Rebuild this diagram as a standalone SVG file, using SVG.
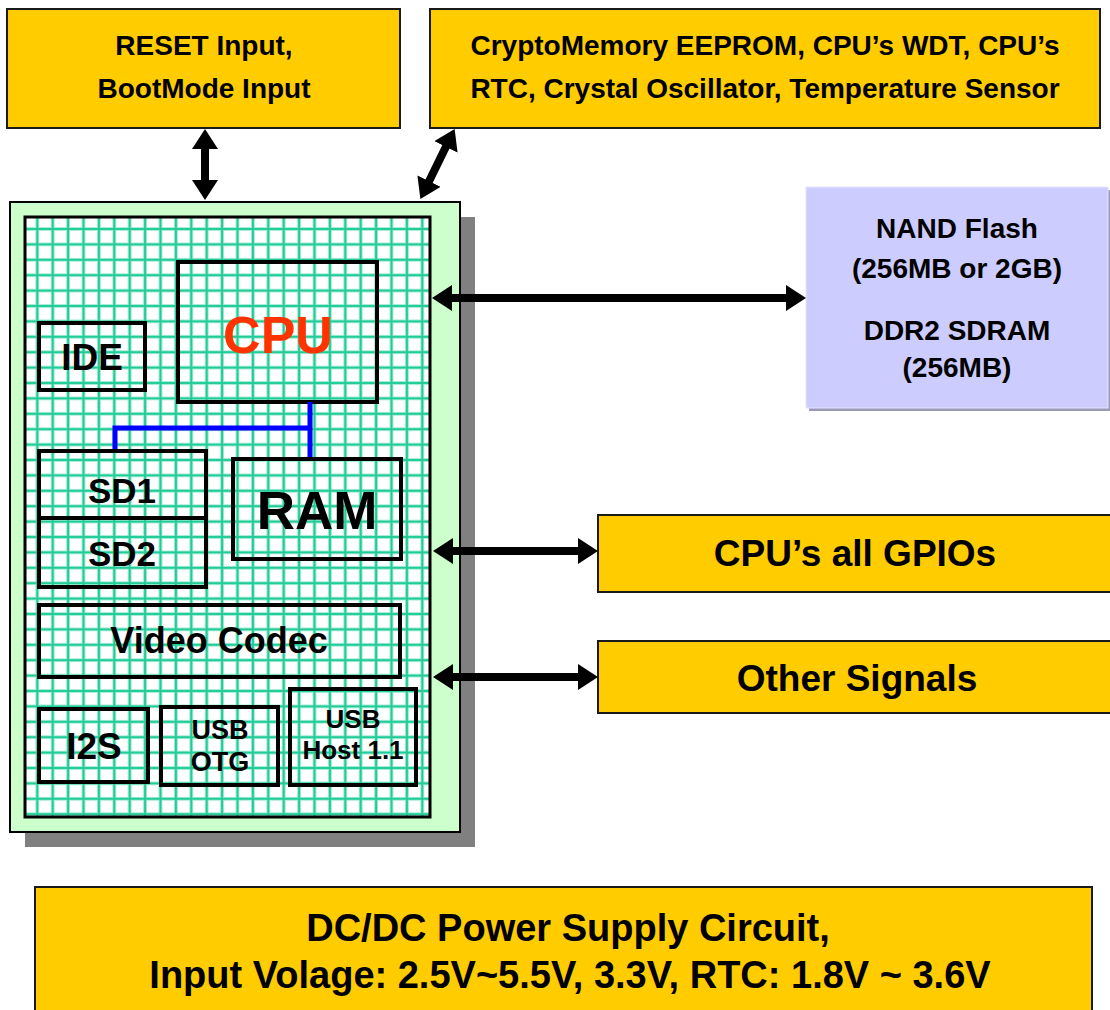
<svg xmlns="http://www.w3.org/2000/svg" width="1110" height="1010" viewBox="0 0 1110 1010">
<style>
text{font-family:"Liberation Sans",Arial,sans-serif;font-weight:bold;text-anchor:middle;fill:#000}
.yel{fill:#FFCC00;stroke:#1a1a1a;stroke-width:2}
.blk{fill:none;stroke:#000;stroke-width:4}
.arr{fill:none;stroke:#000;stroke-width:8;marker-start:url(#ah);marker-end:url(#ah)}
.t28{font-size:28px}.t37{font-size:37px}.t38{font-size:38px}
</style>
<defs>
<marker id="ah" viewBox="0 0 20 26" refX="1" refY="13" markerWidth="20" markerHeight="26" markerUnits="userSpaceOnUse" orient="auto-start-reverse">
<path d="M0,0 L20,13 L0,26 z" fill="#000"/>
</marker>
<pattern id="grid" patternUnits="userSpaceOnUse" x="29.6" y="221.3" width="15.4" height="15.4">
<path d="M7.7 0V15.4M0 7.7H15.4" stroke="#a6ebd4" stroke-width="4"/>
<path d="M7.7 0V15.4M0 7.7H15.4" stroke="#22CC99" stroke-width="2"/>
</pattern>
</defs>
<rect width="1110" height="1010" fill="#fff"/>

<g id="reset">
<rect class="yel" x="7" y="9" width="393" height="119"/>
<text class="t28" x="204" y="55">RESET Input,</text>
<text class="t28" x="204" y="98">BootMode Input</text>
</g>

<g id="crypto">
<rect class="yel" x="430" y="9" width="670" height="119"/>
<text class="t28" x="765" y="55">CryptoMemory EEPROM, CPU’s WDT, CPU’s</text>
<text class="t28" x="765" y="98">RTC, Crystal Oscillator, Temperature Sensor</text>
</g>

<g id="board">
<rect x="25" y="217" width="450" height="630" fill="#808080"/>
<rect x="10" y="202" width="450" height="630" fill="#CCFFCC" stroke="#000" stroke-width="2"/>
<rect x="25" y="217" width="405" height="600" fill="#fff"/>
<rect x="25" y="217" width="405" height="600" fill="url(#grid)" stroke="#000" stroke-width="3"/>
</g>

<g id="cpu">
<rect class="blk" x="178" y="262" width="199" height="140"/>
<text x="278" y="353" style="font-size:52px;fill:#FF3300">CPU</text>
</g>
<g id="ide">
<rect class="blk" x="39" y="323" width="106" height="67"/>
<text x="92" y="370" style="font-size:37px">IDE</text>
</g>
<g id="bus">
<path d="M310 402V459M310 428H115V451" fill="none" stroke="#0000FF" stroke-width="5"/>
</g>
<g id="sd1">
<rect class="blk" x="39" y="451" width="167" height="67"/>
<text x="122" y="503" style="font-size:35px">SD1</text>
</g>
<g id="sd2">
<rect class="blk" x="39" y="518" width="167" height="69"/>
<text x="122" y="566" style="font-size:35px">SD2</text>
</g>
<g id="ram">
<rect class="blk" x="233" y="459" width="168" height="100"/>
<text x="317" y="529" style="font-size:53px">RAM</text>
</g>
<g id="video">
<rect class="blk" x="39" y="605" width="361" height="72"/>
<text x="219" y="653" style="font-size:36px">Video Codec</text>
</g>
<g id="i2s">
<rect class="blk" x="39" y="709" width="109" height="73"/>
<text x="94" y="759" style="font-size:37px">I2S</text>
</g>
<g id="usbotg">
<rect class="blk" x="161" y="707" width="117" height="78"/>
<text x="220" y="739" style="font-size:27px">USB</text>
<text x="220" y="771" style="font-size:27px">OTG</text>
</g>
<g id="usbhost">
<rect class="blk" x="290" y="689" width="126" height="96"/>
<text x="353" y="728" style="font-size:26px">USB</text>
<text x="353" y="759" style="font-size:26px">Host 1.1</text>
</g>

<g id="memory">
<rect x="809" y="190" width="302" height="221" fill="#9a9ab8"/>
<rect x="806" y="187" width="302" height="221" fill="#CCCCFF" stroke="#e6e6ff" stroke-width="1"/>
<text class="t28" x="957" y="238">NAND Flash</text>
<text class="t28" x="957" y="278">(256MB or 2GB)</text>
<text class="t28" x="957" y="340">DDR2 SDRAM</text>
<text class="t28" x="957" y="377">(256MB)</text>
</g>

<g id="gpio">
<rect class="yel" x="598" y="515" width="514" height="77"/>
<text class="t37" x="855" y="566">CPU’s all GPIOs</text>
</g>
<g id="other">
<rect class="yel" x="598" y="641" width="514" height="72"/>
<text class="t37" x="857" y="691">Other Signals</text>
</g>

<g id="power">
<rect class="yel" x="35" y="887" width="1057" height="130"/>
<text class="t38" x="568" y="941">DC/DC Power Supply Circuit,</text>
<text class="t38" x="570" y="988">Input Volage: 2.5V~5.5V, 3.3V, RTC: 1.8V ~ 3.6V</text>
</g>

<g id="connectors">
<path class="arr" d="M205 148V181"/>
<path class="arr" d="M446.3 146L428.7 182"/>
<path class="arr" d="M451 298H787"/>
<path class="arr" d="M452 551H579"/>
<path class="arr" d="M452 677H579"/>
</g>
</svg>
